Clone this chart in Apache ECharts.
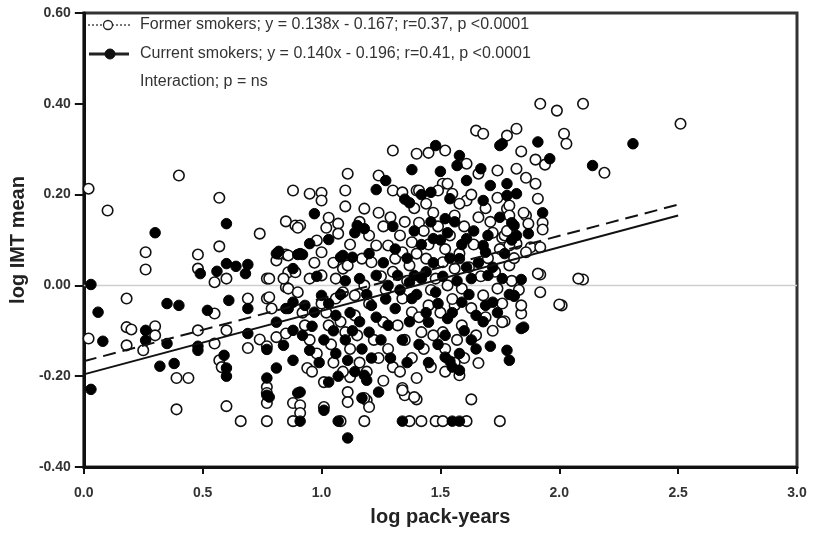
<!DOCTYPE html>
<html>
<head>
<meta charset="utf-8">
<script src="https://cdn.jsdelivr.net/npm/echarts@6/dist/echarts.min.js"></script>
<style>html,body{margin:0;padding:0;background:#fff;}#chart{width:813px;height:534px;}</style>
</head>
<body>
<div id="chart"></div>
<script>
// ---- Data ----
const xTicks = [0.0, 0.5, 1.0, 1.5, 2.0, 2.5, 3.0];
const yTicks = [-0.40, -0.20, 0.00, 0.20, 0.40, 0.60];
const formerFit = { slope: 0.138, intercept: -0.167, xStart: 0, xEnd: 2.5 };
const currentFit = { slope: 0.140, intercept: -0.196, xStart: 0, xEnd: 2.5 };
const legendTexts = [
  "Former smokers; y = 0.138x - 0.167; r=0.37, p <0.0001",
  "Current smokers; y = 0.140x - 0.196; r=0.41, p <0.0001",
  "Interaction; p = ns"
];

const formerPoints = [
[0.02,0.213],[0.10,0.165],[0.40,0.242],[0.57,0.193],[0.26,0.073],[0.26,0.035],[0.57,0.086],[0.48,0.068],[0.48,0.037],[0.74,0.114],[0.85,0.141],[0.88,0.209],[0.89,0.132],[0.18,-0.029],[0.02,-0.117],[0.18,-0.092],[0.20,-0.097],[0.18,-0.132],[0.25,-0.143],[0.30,-0.090],[0.30,-0.110],[0.39,-0.204],[0.44,-0.204],[0.39,-0.273],[0.55,0.007],[0.60,0.015],[0.55,-0.062],[0.48,-0.099],[0.55,-0.128],[0.57,-0.165],[0.58,-0.180],[0.60,-0.266],[0.66,-0.299],[0.69,-0.029],[0.77,-0.029],[0.69,-0.138],[0.74,-0.119],[0.77,-0.134],[0.77,-0.224],[0.77,-0.237],[0.77,-0.259],[0.77,-0.299],[0.88,-0.299],[0.88,-0.259],[0.81,0.055],[0.85,0.068],[0.77,0.015],[0.85,-0.004],[0.86,0.029],[0.60,-0.099],[0.81,-0.114],[0.85,-0.106],
[1.92,0.400],[1.99,0.385],[2.10,0.400],[2.51,0.356],[1.82,0.345],[1.78,0.330],[2.02,0.334],[2.03,0.312],[2.19,0.248],[1.84,0.295],[1.90,0.277],[1.94,0.266],[1.82,0.257],[1.86,0.237],[1.90,0.224],[1.91,0.191],[1.78,0.169],[1.86,0.154],[1.93,0.138],[1.93,0.123],[1.82,0.092],[1.88,0.084],[1.92,0.084],[1.92,0.024],[1.92,-0.015],[2.10,0.013],[2.01,-0.044],[1.84,-0.062],[1.77,-0.079],[1.76,0.105],
[1.30,0.297],[0.91,0.132],[0.95,0.202],[1.00,0.204],[1.00,0.187],[1.10,0.209],[1.11,0.246],[1.10,0.174],[1.18,0.169],[1.24,0.242],[1.40,0.290],[1.45,0.292],[1.52,0.297],[1.65,0.341],[1.68,0.334],[1.30,0.209],[1.34,0.205],[1.40,0.209],[1.51,0.224],[1.61,0.268],[1.66,0.246],[1.74,0.253],[1.55,0.202],[1.61,0.187],[1.74,0.193],[1.85,0.160],[1.87,0.136],
[1.24,0.160],[1.07,0.136],[1.03,0.149],[1.02,0.127],[0.98,0.099],[1.07,0.114],[0.82,0.070],[0.86,0.066],[1.00,0.073],
[1.79,0.176],[1.53,0.224],[1.41,0.209],[1.49,0.209],[1.56,0.154],[1.79,0.154],[1.41,0.138],
[1.08,-0.299],[1.18,-0.299],[1.37,-0.299],[1.42,-0.299],[1.48,-0.299],[1.51,-0.299],[1.61,-0.299],[1.75,-0.299],
[0.91,-0.264],[0.91,-0.281],[1.01,-0.213],[1.01,-0.268],[1.11,-0.235],[1.11,-0.257],[1.19,-0.253],[1.20,-0.268],[1.34,-0.226],[1.35,-0.242],[1.40,-0.251],[1.40,-0.204],[1.63,-0.251],[1.66,-0.171],[1.58,-0.198],[1.12,-0.202],[0.94,-0.182],[1.18,-0.248],[1.34,-0.231],[1.39,-0.246],
[0.78,0.015],[0.84,0.015],[0.86,-0.007],[0.89,0.029],[0.95,0.015],[1.00,0.022],[1.06,0.015],[1.09,0.037],[1.11,0.044],[1.17,0.059],[1.23,0.088],[1.28,0.088],[1.31,0.059],[1.37,0.044],[0.78,-0.026],[0.79,-0.051],[0.90,-0.015],[1.06,-0.029],[1.09,-0.015],[1.14,-0.022],[1.18,0.0],[1.14,-0.066],[1.03,-0.088],[0.93,-0.088],[1.10,-0.103],[1.26,-0.081],[1.32,-0.088],[1.34,-0.029],[1.38,-0.059],[0.90,0.127],[1.21,0.051],[1.34,0.073],[1.38,0.095],
[1.91,0.026],[2.00,-0.042],[2.08,0.015],[1.76,-0.081],[1.84,-0.044],[1.77,0.110],[1.72,0.116],[1.56,0.037],[1.51,0.051],[1.44,0.059],[1.48,0.015],[1.53,0.0],[1.59,-0.007],[1.74,-0.007],[1.68,-0.022],[1.56,-0.044],[1.45,-0.044],[1.42,-0.103],[1.51,-0.103],[1.59,-0.088],[1.79,0.044],[1.86,0.073],[1.79,0.088],
[0.95,-0.120],[0.98,-0.150],[1.02,-0.060],[1.04,-0.130],[1.05,-0.170],[1.08,-0.080],[1.12,-0.140],[1.15,-0.110],[1.16,-0.170],[1.20,-0.040],[1.22,-0.120],[1.24,-0.160],[1.25,0.020],[1.27,-0.010],[1.28,-0.140],[1.30,0.030],[1.30,-0.180],[1.33,0.110],[1.35,-0.120],[1.36,0.010],[1.38,-0.160],[1.40,0.070],[1.41,-0.070],[1.43,0.120],[1.43,-0.140],[1.45,0.090],[1.46,-0.010],[1.47,-0.110],[1.49,0.130],[1.50,-0.060],[1.52,0.080],[1.52,-0.140],[1.54,0.110],[1.55,-0.030],[1.57,-0.120],[1.58,0.070],[1.60,0.130],[1.60,-0.160],[1.62,0.040],[1.63,-0.050],[1.64,0.090],[1.65,-0.110],[1.66,0.150],[1.67,0.020],[1.69,-0.070],[1.70,0.060],[1.71,0.140],[1.72,-0.100],[1.73,0.030],[1.75,0.080],[1.76,-0.040],[1.78,0.120],[1.80,0.010],[1.81,0.060],[1.83,-0.010],[1.12,0.090],[1.16,0.140],[1.20,0.110],[1.26,0.130],[1.29,0.150],[1.35,0.140],[1.39,0.170],[1.44,0.180],[1.47,0.160],[1.58,0.180],[1.63,0.200],[1.69,0.170],[1.05,0.050],[1.00,-0.040],[0.97,0.050],[0.92,-0.060],[0.96,-0.190],[1.09,-0.190],[1.19,-0.190],[1.26,-0.210],[1.33,-0.190],[1.46,-0.180],[1.52,-0.190],[1.56,-0.170]
];

const currentPoints = [
[0.03,0.002],[0.06,-0.059],[0.08,-0.123],[0.03,-0.229],[0.30,0.116],[0.35,-0.040],[0.40,-0.044],[0.26,-0.099],[0.26,-0.121],[0.35,-0.128],[0.32,-0.178],[0.38,-0.172],[0.48,-0.134],[0.48,-0.143],[0.60,0.136],[0.49,0.026],[0.56,0.031],[0.60,0.048],[0.64,0.042],[0.68,0.026],[0.69,0.046],[0.52,-0.055],[0.61,-0.033],[0.69,-0.051],[0.69,-0.106],[0.59,-0.154],[0.60,-0.182],[0.60,-0.200],[0.77,-0.141],[0.81,-0.182],[0.77,-0.204],[0.77,-0.242],[0.81,-0.081],[0.86,-0.051],[0.81,0.070],[0.90,0.068],[0.88,0.037],[0.90,-0.237],[0.84,-0.132],[0.88,-0.165],[0.88,-0.099],
[1.91,0.316],[1.96,0.279],[2.31,0.312],[2.14,0.264],[1.78,0.224],[1.82,0.202],[1.78,0.198],[1.93,0.160],[1.81,0.132],[1.87,0.114],[1.84,0.013],[1.81,-0.024],[1.85,-0.092],[1.76,0.312],
[1.48,0.308],[1.38,0.255],[1.50,0.251],[1.58,0.286],[1.57,0.264],[1.67,0.257],[1.61,0.231],[1.71,0.220],[1.75,0.308],[1.27,0.231],[1.23,0.211],[1.46,0.205],[1.37,0.182],[1.54,0.191],[1.68,0.187],[0.97,0.158],[0.95,0.092],[1.03,0.101],[0.91,0.070],[1.15,0.132],[1.18,0.125],[1.09,0.066],[1.13,0.062],[1.52,0.147],[1.80,0.138],
[0.91,-0.299],[1.07,-0.299],[1.34,-0.299],[1.55,-0.299],[1.58,-0.299],[1.11,-0.336],
[0.91,-0.235],[1.07,-0.200],[1.01,-0.275],[1.19,-0.209],[1.24,-0.235],[1.71,-0.134],[1.78,-0.143],[1.79,-0.165],[1.52,-0.158],[1.55,-0.180],[1.58,-0.187],[1.18,-0.198],[1.11,-0.165],[0.95,-0.143],[1.03,-0.213],[1.17,-0.248],[0.78,-0.246],[1.54,-0.167],
[0.92,0.068],[1.08,0.062],[0.82,0.075],[1.16,0.015],[1.23,0.022],[1.28,0.0],[1.32,0.022],[1.37,0.007],[1.38,-0.029],[0.88,-0.037],[0.93,-0.044],[1.00,-0.022],[0.97,-0.059],[1.06,-0.066],[0.85,-0.051],[1.21,-0.044],[1.20,-0.103],[1.31,-0.051],[1.28,-0.088],[1.14,0.116],
[1.39,0.022],[1.42,0.015],[1.58,0.059],[1.69,0.073],[1.68,0.088],[1.61,0.103],[1.53,0.116],[1.47,0.103],[1.63,0.015],[1.70,0.022],[1.76,0.015],[1.81,-0.022],[1.84,-0.095],[1.69,-0.044],[1.65,-0.066],[1.53,-0.073],[1.45,-0.081],[1.48,-0.015],[1.59,-0.037],[1.72,-0.037],[1.82,0.110],
[0.92,-0.110],[0.96,-0.090],[0.99,-0.170],[1.01,-0.120],[1.03,-0.040],[1.05,-0.100],[1.06,-0.150],[1.08,-0.020],[1.10,-0.120],[1.12,-0.060],[1.13,-0.100],[1.14,-0.190],[1.16,-0.080],[1.17,-0.140],[1.19,-0.020],[1.21,-0.160],[1.23,-0.070],[1.25,-0.120],[1.26,0.050],[1.27,-0.030],[1.29,-0.160],[1.31,0.080],[1.33,-0.010],[1.34,-0.120],[1.36,0.060],[1.37,-0.080],[1.39,0.120],[1.40,-0.020],[1.41,-0.130],[1.42,0.090],[1.44,0.030],[1.44,-0.060],[1.46,0.140],[1.47,0.050],[1.49,-0.040],[1.50,0.100],[1.51,0.020],[1.52,-0.110],[1.54,0.060],[1.55,-0.060],[1.56,0.140],[1.57,0.010],[1.59,0.090],[1.60,-0.100],[1.61,0.040],[1.62,-0.020],[1.64,0.120],[1.65,-0.140],[1.66,0.050],[1.68,-0.080],[1.70,0.110],[1.72,0.040],[1.74,-0.060],[1.75,0.150],[1.77,0.070],[1.79,-0.020],[1.80,0.100],[1.35,0.190],[1.42,0.200],[1.30,0.130],[1.20,0.070],[1.10,0.010],[0.98,0.020],[1.49,-0.130],[1.58,-0.150],[1.63,-0.120],[1.45,-0.170],[1.36,-0.170]
];

// ---- Chart ----
function fitLine(f) {
  return [[f.xStart, f.slope * f.xStart + f.intercept], [f.xEnd, f.slope * f.xEnd + f.intercept]];
}
const FONT = "'Liberation Sans', Arial, sans-serif";
const LEG_FONT = "16px 'Liberation Sans', Arial, sans-serif";
const chart = echarts.init(document.getElementById('chart'), null, { renderer: 'canvas' });
const option = {
  animation: false,
  backgroundColor: '#ffffff',
  grid: { left: 83, right: 16, top: 13, bottom: 67, show: true, borderColor: '#333', borderWidth: 3, backgroundColor: 'transparent' },
  xAxis: {
    type: 'value', min: xTicks[0], max: xTicks[xTicks.length - 1], interval: 0.5,
    name: 'log pack-years', nameLocation: 'middle', nameGap: 40,
    nameTextStyle: { fontFamily: FONT, fontSize: 20, fontWeight: 'bold', color: '#222', verticalAlign: 'top' },
    axisLine: { show: true, onZero: false, lineStyle: { color: '#111', width: 3 } },
    axisTick: { show: true, length: 7, lineStyle: { color: '#111', width: 2 } },
    axisLabel: { fontFamily: FONT, fontSize: 14, fontWeight: 'bold', color: '#333', margin: 19,
      formatter: v => v.toFixed(1) },
    splitLine: { show: false }
  },
  yAxis: {
    type: 'value', min: yTicks[0], max: yTicks[yTicks.length - 1], interval: 0.2,
    name: 'log IMT mean', nameLocation: 'middle', nameGap: 46,
    nameTextStyle: { fontFamily: FONT, fontSize: 20, fontWeight: 'bold', color: '#222' },
    axisLine: { show: true, onZero: false, lineStyle: { color: '#111', width: 3 } },
    axisTick: { show: true, length: 9, lineStyle: { color: '#111', width: 2 } },
    axisLabel: { fontFamily: FONT, fontSize: 14, fontWeight: 'bold', color: '#333', margin: 13,
      formatter: v => v.toFixed(2) },
    splitLine: { show: false }
  },
  series: [
    { type: 'line', data: [[xTicks[0], 0], [xTicks[xTicks.length - 1], 0]], symbol: 'none', silent: true, z: 1,
      lineStyle: { color: '#cfcfcf', width: 1.5 } },
    { name: 'Former smokers', type: 'scatter', data: formerPoints, symbol: 'circle', symbolSize: 10.5, z: 2,
      itemStyle: { color: '#ffffff', borderColor: '#111', borderWidth: 1.6, opacity: 1 } },
    { name: 'Current smokers', type: 'scatter', data: currentPoints, symbol: 'circle', symbolSize: 10.5, z: 3,
      itemStyle: { color: '#000', borderColor: '#000', borderWidth: 1, opacity: 1 } },
    { type: 'line', data: fitLine(formerFit), symbol: 'none', z: 4,
      lineStyle: { color: '#111', width: 2, type: [13, 7] } },
    { type: 'line', data: fitLine(currentFit), symbol: 'none', z: 4,
      lineStyle: { color: '#111', width: 2 } }
  ],
  graphic: [
    { type: 'line', shape: { x1: 88, y1: 25, x2: 132, y2: 25 }, style: { stroke: '#222', lineWidth: 1.2, lineDash: [2, 2] } },
    { type: 'circle', shape: { cx: 108, cy: 25, r: 4.5 }, style: { fill: '#fff', stroke: '#222', lineWidth: 1.3 } },
    { type: 'text', x: 140, y: 25, style: { text: legendTexts[0], font: LEG_FONT, fill: '#333', verticalAlign: 'middle' } },
    { type: 'line', shape: { x1: 89, y1: 54, x2: 129, y2: 54 }, style: { stroke: '#222', lineWidth: 3 } },
    { type: 'circle', shape: { cx: 110, cy: 54, r: 5 }, style: { fill: '#111', stroke: '#111', lineWidth: 1 } },
    { type: 'text', x: 140, y: 54, style: { text: legendTexts[1], font: LEG_FONT, fill: '#333', verticalAlign: 'middle' } },
    { type: 'text', x: 140, y: 82, style: { text: legendTexts[2], font: LEG_FONT, fill: '#333', verticalAlign: 'middle' } }
  ]
};
chart.setOption(option);
</script>
</body>
</html>
